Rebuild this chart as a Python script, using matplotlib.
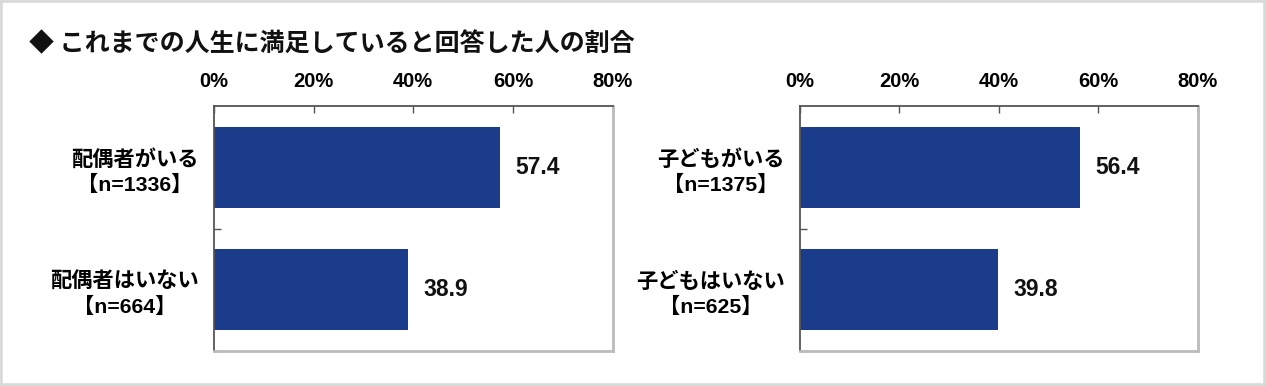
import matplotlib
matplotlib.use("Agg")
import matplotlib.pyplot as plt
from matplotlib.patches import Rectangle

# data
title = "◆ これまでの人生に満足していると回答した人の割合"
left_labels = ["配偶者がいる\n【n=1336】", "配偶者はいない\n【n=664】"]
left_values = [57.4, 38.9]
right_labels = ["子どもがいる\n【n=1375】", "子どもはいない\n【n=625】"]
right_values = [56.4, 39.8]
xticks = [0, 20, 40, 60, 80]
xtick_labels = ["0%", "20%", "40%", "60%", "80%"]

BAR_COLOR = "#1b3b8b"
NUM_FONT = ["Liberation Sans", "Noto Sans CJK JP", "DejaVu Sans"]
JP_FONT = ["Noto Sans CJK JP", "DejaVu Sans"]

plt.rcParams["font.family"] = JP_FONT

fig = plt.figure(figsize=(12.66, 3.86), dpi=100, facecolor="white")
fig.patches.append(Rectangle((0, 0), 1, 1, transform=fig.transFigure,
                             fill=False, edgecolor="#d9d9d9", lw=4))

fig.text(29 / 1266, 1 - 44 / 386, title, family=JP_FONT, fontsize=18,
         fontweight="bold", va="center", ha="left", color="#111111")


def draw_panel(ax, labels, values):
    ypos = list(range(len(values)))
    ax.barh(ypos, values, height=0.66, color=BAR_COLOR, zorder=2)
    ax.set_xlim(0, 80)
    ax.set_ylim(len(values) - 0.5, -0.5)

    ax.xaxis.tick_top()
    ax.set_xticks(xticks)
    ax.set_xticklabels(xtick_labels, family=NUM_FONT, fontsize=14.5,
                       fontweight="bold")
    ax.tick_params(axis="x", direction="in", length=5, width=1,
                   color="#555555", pad=11)

    ax.set_yticks(ypos)
    ax.set_yticklabels(labels, family=NUM_FONT, fontsize=15.3,
                       fontweight="bold", linespacing=1.3,
                       multialignment="center")
    ax.tick_params(axis="y", length=0, pad=11)
    ax.set_yticks([i + 0.5 for i in ypos], minor=True)
    ax.tick_params(axis="y", which="minor", direction="in", length=5,
                   width=1, color="#555555")

    for v, y in zip(values, ypos):
        ax.annotate(f"{v:.1f}", (v, y), xytext=(11, 0),
                    textcoords="offset points", va="center", ha="left",
                    family=NUM_FONT, fontsize=16.5, fontweight="bold",
                    color="#111111")

    for side in ("top", "left"):
        ax.spines[side].set_color("#555555")
        ax.spines[side].set_linewidth(1.3)
    for side in ("right", "bottom"):
        ax.spines[side].set_color("#bbbbbb")
        ax.spines[side].set_linewidth(2)


ax1 = fig.add_axes([214 / 1266, 1 - 351 / 386, 398.5 / 1266, 245 / 386])
draw_panel(ax1, left_labels, left_values)

ax2 = fig.add_axes([800 / 1266, 1 - 351 / 386, 397.7 / 1266, 245 / 386])
draw_panel(ax2, right_labels, right_values)

fig.savefig("out.png", dpi=100, facecolor="white")
